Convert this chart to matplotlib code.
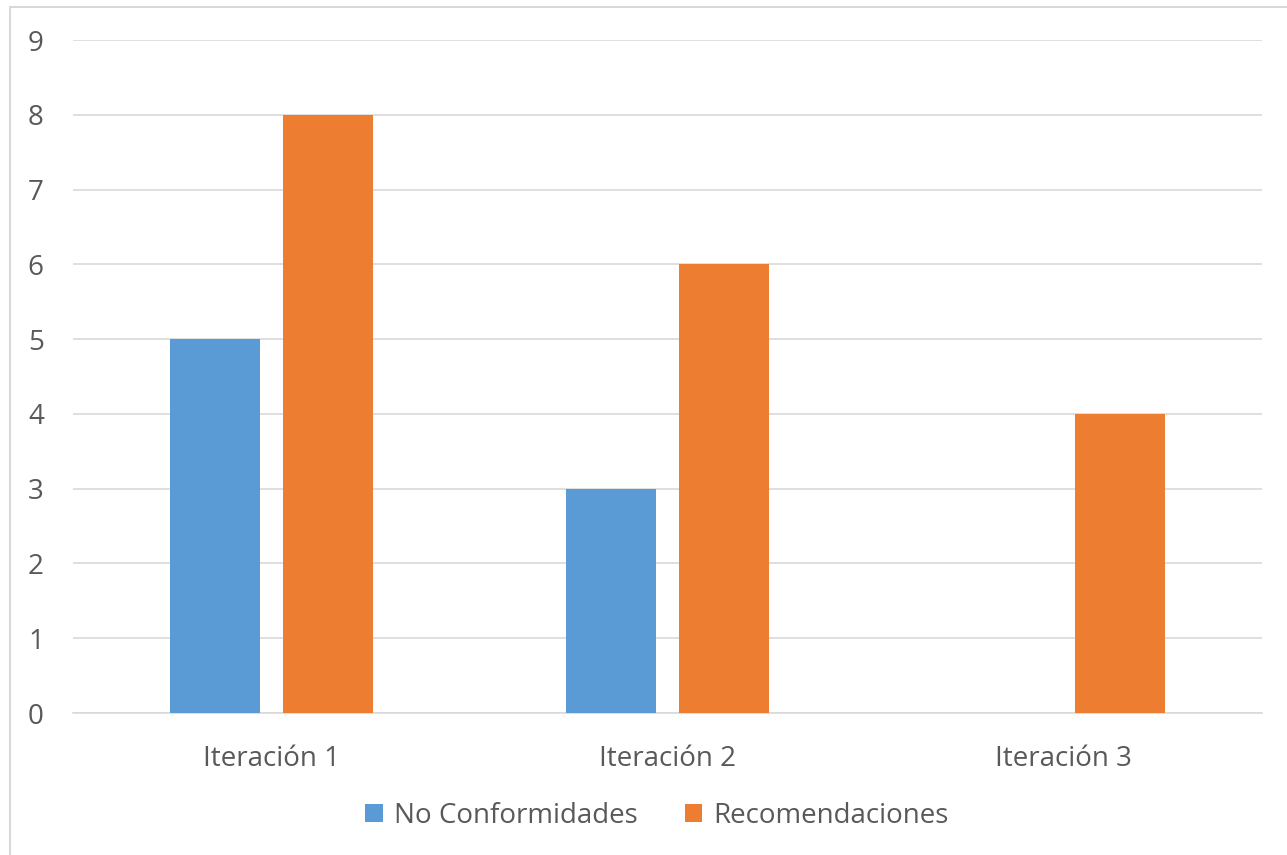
import numpy as np
import matplotlib
import matplotlib.pyplot as plt
from matplotlib.patches import Rectangle

matplotlib.rcParams['font.family'] = ['Open Sans', 'DejaVu Sans']

categories = ['Iteración 1', 'Iteración 2', 'Iteración 3']
no_conformidades = [5, 3, 0]
recomendaciones = [8, 6, 4]
series_names = ['No Conformidades', 'Recomendaciones']

blue = '#5B9BD5'
orange = '#ED7D31'
grid_c = '#D9D9D9'
text_c = '#595959'
fs = 20

fig = plt.figure(figsize=(12.87, 8.55), dpi=100)
ax = fig.add_axes([73/1287, 1 - 713/855, (1262 - 73)/1287, (713 - 40)/855])

# outer chart border (light grey)
fig.patches.append(Rectangle((10/1287, -0.1), 1.2, 1 - 7/855 + 0.1, transform=fig.transFigure,
                             fill=False, edgecolor='#D9D9D9', linewidth=1.5))

x = np.arange(len(categories))
w = 0.227
gap = 0.058
ax.bar(x - (w + gap)/2, no_conformidades, w, color=blue, label=series_names[0], zorder=3)
ax.bar(x + (w + gap)/2, recomendaciones, w, color=orange, label=series_names[1], zorder=3)

ax.set_xlim(-0.5, len(categories) - 0.5)
ax.set_ylim(0, 9)
ax.set_yticks(range(0, 10))
ax.set_xticks(x)
ax.set_xticklabels(categories)

ax.yaxis.grid(True, color=grid_c, linewidth=1.2, zorder=0)
for s in ['top', 'right', 'left']:
    ax.spines[s].set_visible(False)
ax.spines['bottom'].set_color(grid_c)
ax.spines['bottom'].set_linewidth(1.2)

ax.tick_params(axis='y', length=0, pad=21, labelsize=fs, labelcolor=text_c)
ax.tick_params(axis='x', length=0, pad=23, labelsize=fs, labelcolor=text_c)

leg = fig.legend(loc='center', bbox_to_anchor=(657/1287, 1 - 816/855), ncol=2, frameon=False,
                 fontsize=fs, handlelength=0.62, handleheight=0.62, handletextpad=0.4,
                 columnspacing=1.7)
for t in leg.get_texts():
    t.set_color(text_c)

fig.savefig('out.png', dpi=100)
